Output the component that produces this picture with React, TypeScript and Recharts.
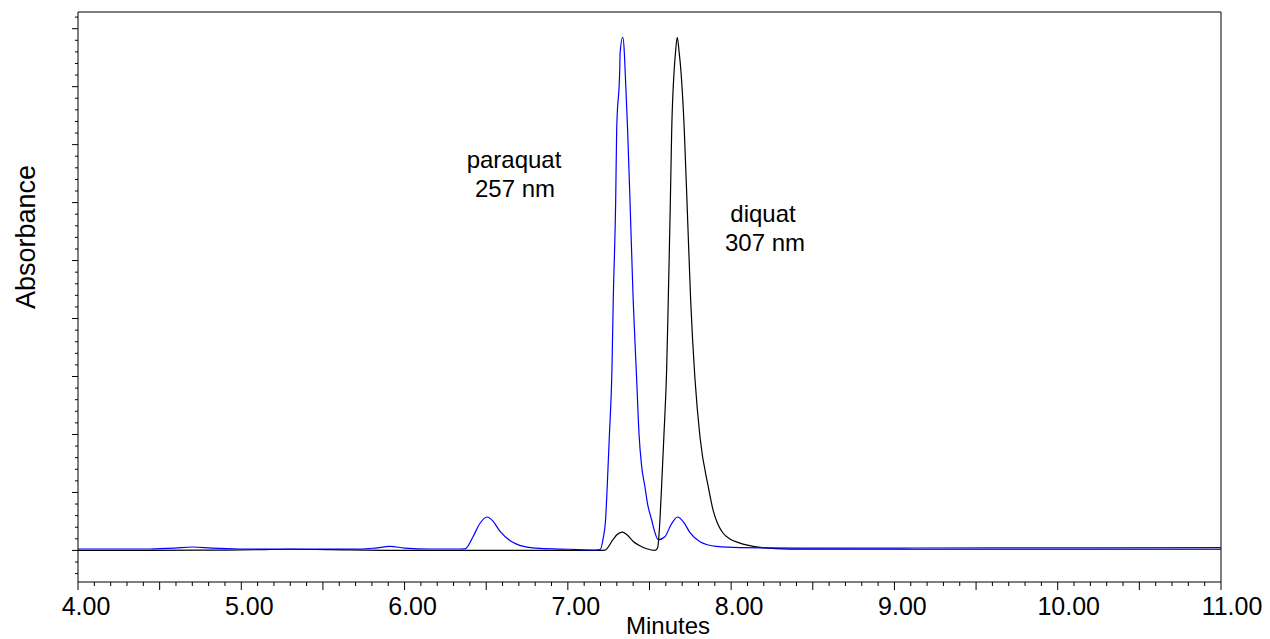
import { LineChart, Line, XAxis, YAxis, ReferenceLine } from 'recharts';

// paraquat channel, 257 nm (blue). t = minutes, v = absorbance (arbitrary units)
const blueTrace = [
  { t: 4.0, v: 0.024 }, { t: 4.44, v: 0.024 }, { t: 4.59, v: 0.038 }, { t: 4.7, v: 0.059 },
  { t: 4.82, v: 0.038 }, { t: 4.99, v: 0.024 }, { t: 5.36, v: 0.021 }, { t: 5.73, v: 0.024 },
  { t: 5.82, v: 0.041 }, { t: 5.91, v: 0.069 }, { t: 6.0, v: 0.041 }, { t: 6.16, v: 0.024 },
  { t: 6.34, v: 0.024 }, { t: 6.37, v: 0.026 }, { t: 6.42, v: 0.241 }, { t: 6.46, v: 0.46 },
  { t: 6.505, v: 0.576 }, { t: 6.54, v: 0.51 }, { t: 6.585, v: 0.328 }, { t: 6.645, v: 0.172 },
  { t: 6.73, v: 0.069 }, { t: 6.83, v: 0.034 }, { t: 7.01, v: 0.02 }, { t: 7.17, v: 0.007 },
  { t: 7.197, v: 0.012 }, { t: 7.217, v: 0.219 }, { t: 7.231, v: 0.529 }, { t: 7.241, v: 1.098 },
  { t: 7.254, v: 1.96 }, { t: 7.27, v: 3.116 }, { t: 7.278, v: 4.322 }, { t: 7.293, v: 6.047 },
  { t: 7.299, v: 7.253 }, { t: 7.318, v: 8.322 }, { t: 7.32, v: 8.581 }, { t: 7.336, v: 8.852 },
  { t: 7.346, v: 8.581 }, { t: 7.35, v: 8.322 }, { t: 7.366, v: 7.253 }, { t: 7.382, v: 5.909 },
  { t: 7.4, v: 4.322 }, { t: 7.421, v: 2.978 }, { t: 7.436, v: 2.0 }, { t: 7.452, v: 1.45 },
  { t: 7.472, v: 1.098 }, { t: 7.489, v: 0.79 }, { t: 7.513, v: 0.529 }, { t: 7.532, v: 0.32 },
  { t: 7.553, v: 0.184 }, { t: 7.594, v: 0.236 }, { t: 7.632, v: 0.443 },
  { t: 7.672, v: 0.576 }, { t: 7.711, v: 0.478 }, { t: 7.748, v: 0.305 }, { t: 7.809, v: 0.15 },
  { t: 7.911, v: 0.069 }, { t: 8.054, v: 0.047 }, { t: 8.42, v: 0.038 }, { t: 9.03, v: 0.041 },
  { t: 9.65, v: 0.045 }, { t: 10.26, v: 0.045 }, { t: 11.0, v: 0.047 },
];

// diquat channel, 307 nm (black)
const blackTrace = [
  { t: 4.0, v: 0.0 }, { t: 4.75, v: 0.004 }, { t: 5.11, v: 0.012 }, { t: 5.3, v: 0.02 },
  { t: 5.54, v: 0.012 }, { t: 5.97, v: 0.0 }, { t: 6.58, v: 0.0 }, { t: 7.197, v: 0.0 },
  { t: 7.227, v: 0.004 }, { t: 7.276, v: 0.184 }, { t: 7.3, v: 0.27 }, { t: 7.333, v: 0.317 },
  { t: 7.362, v: 0.27 }, { t: 7.4, v: 0.155 }, { t: 7.441, v: 0.081 }, { t: 7.483, v: 0.029 },
  { t: 7.534, v: 0.0 }, { t: 7.55, v: 0.047 }, { t: 7.564, v: 0.529 }, { t: 7.574, v: 1.098 },
  { t: 7.588, v: 1.96 }, { t: 7.605, v: 3.116 }, { t: 7.615, v: 4.322 }, { t: 7.627, v: 5.909 },
  { t: 7.636, v: 7.253 }, { t: 7.652, v: 8.322 }, { t: 7.659, v: 8.581 }, { t: 7.67, v: 8.852 },
  { t: 7.682, v: 8.581 }, { t: 7.691, v: 8.322 }, { t: 7.713, v: 7.253 }, { t: 7.731, v: 5.909 },
  { t: 7.752, v: 4.322 }, { t: 7.778, v: 2.978 }, { t: 7.809, v: 1.96 }, { t: 7.86, v: 1.098 },
  { t: 7.889, v: 0.7 }, { t: 7.919, v: 0.45 }, { t: 7.95, v: 0.3 }, { t: 7.99, v: 0.2 },
  { t: 8.05, v: 0.13 }, { t: 8.1, v: 0.09 }, { t: 8.189, v: 0.047 }, { t: 8.36, v: 0.022 },
  { t: 9.03, v: 0.02 }, { t: 10.26, v: 0.02 }, { t: 11.0, v: 0.02 },
];

const majorMinutes = [4, 5, 6, 7, 8, 9, 10, 11];
const xLabels = ['4.00', '5.00', '6.00', '7.00', '8.00', '9.00', '10.00', '11.00'];

const paraquatLabel = ['paraquat', '257 nm'];
const diquatLabel = ['diquat', '307 nm'];

const Y_MIN = -0.545;
const Y_MAX = 9.288;

// tick positions: every 0.1 min on x, every 0.2 units on y
const xTicks = Array.from({ length: 71 }, (_, i) => Math.round(40 + i) / 10);
const yTicks = Array.from({ length: 49 }, (_, i) => Math.round(-4 + i * 2) / 10);

const FONT = '"Liberation Sans", Arial, sans-serif';

const near = (a: number, b: number) => Math.abs(a - b) < 1e-6;

const XTick = ({ x, y, payload }: any) => {
  const v = payload.value;
  const idx = majorMinutes.findIndex((m) => near(m, v));
  const half = near(v * 2, Math.round(v * 2));
  const label = idx >= 0 ? xLabels[idx] : '';
  return (
    <g>
      <line x1={x} y1={y} x2={x} y2={y + (half ? 8 : 4)} stroke="#000" strokeWidth={1} />
      {label && (
        <text
          x={x + (label.length > 4 ? 11 : 8)}
          y={y + 33}
          textAnchor="middle"
          fontSize={25}
          fontFamily={FONT}
          fill="#000"
        >
          {label}
        </text>
      )}
    </g>
  );
};

const YTick = ({ x, y, payload }: any) => {
  const v = payload.value;
  const major = near(v, Math.round(v));
  return <line x1={x} y1={y} x2={x - (major ? 6 : 3)} y2={y} stroke="#000" strokeWidth={1} />;
};

export default function App() {
  return (
    <div style={{ position: 'absolute', left: 0, top: 0, background: '#fff' }}>
      <LineChart width={1270} height={639} margin={{ top: 12, right: 49, bottom: 0, left: 0 }}>
        <XAxis
          dataKey="t"
          type="number"
          domain={[4, 11]}
          ticks={xTicks}
          interval={0}
          tick={<XTick />}
          tickLine={false}
          tickSize={0}
          tickMargin={0}
          height={57}
          axisLine={{ stroke: '#000', strokeWidth: 1 }}
          allowDuplicatedCategory={false}
        />
        <YAxis
          type="number"
          domain={[Y_MIN, Y_MAX]}
          ticks={yTicks}
          interval={0}
          tick={<YTick />}
          tickLine={false}
          tickSize={0}
          tickMargin={0}
          width={78}
          axisLine={{ stroke: '#000', strokeWidth: 1 }}
        />
        {/* frame: top and right edges */}
        <ReferenceLine y={Y_MAX} stroke="#000" strokeWidth={1} />
        <ReferenceLine x={11} stroke="#000" strokeWidth={1} />
        <Line
          data={blackTrace}
          dataKey="v"
          type="monotone"
          stroke="#000"
          strokeWidth={1.2}
          dot={false}
          activeDot={false}
          isAnimationActive={false}
        />
        <Line
          data={blueTrace}
          dataKey="v"
          type="monotone"
          stroke="#0000ff"
          strokeWidth={1.2}
          dot={false}
          activeDot={false}
          isAnimationActive={false}
        />
        <text x={26} y={237} transform="rotate(-90, 26, 237)" textAnchor="middle" dominantBaseline="central" fontSize={27} fontFamily={FONT} fill="#000">
          Absorbance
        </text>
        <text x={668} y={634} textAnchor="middle" fontSize={24} fontFamily={FONT} fill="#000">
          Minutes
        </text>
        <text textAnchor="middle" fontSize={24} fontFamily={FONT} fill="#000">
          <tspan x={514} y={168}>{paraquatLabel[0]}</tspan>
          <tspan x={515} y={197}>{paraquatLabel[1]}</tspan>
        </text>
        <text textAnchor="middle" fontSize={24} fontFamily={FONT} fill="#000">
          <tspan x={763} y={222}>{diquatLabel[0]}</tspan>
          <tspan x={765} y={251}>{diquatLabel[1]}</tspan>
        </text>
      </LineChart>
    </div>
  );
}
